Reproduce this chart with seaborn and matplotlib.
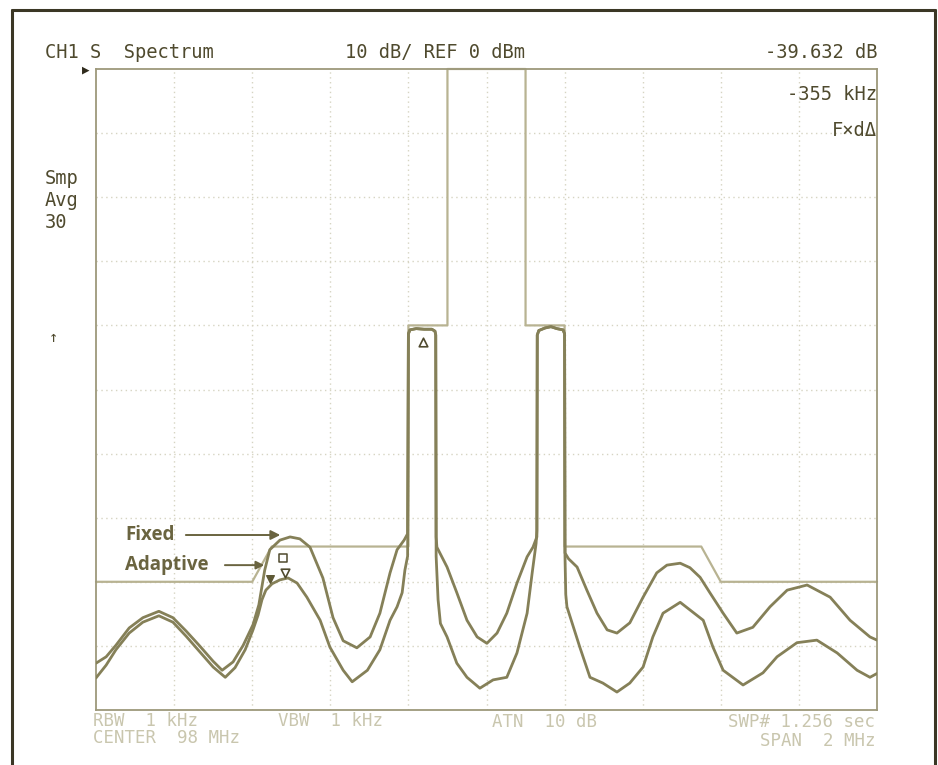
import matplotlib
matplotlib.use("Agg")
import matplotlib.pyplot as plt
from matplotlib.lines import Line2D
import pandas as pd
import seaborn as sns

# Offsets from the 98 MHz centre (kHz) and measured levels (dBm)
fixed_khz = [-1000, -974, -949, -915, -880, -839, -803, -769, -736, -700, -677, -649,
             -623, -598, -583, -568, -555, -529, -503, -478, -452, -419, -393, -367,
             -332, -298, -273, -247, -229, -211, -202,
             -200, -196, -180, -160, -140, -132, -130,
             -129, -127, -101, -76, -50, -24, 1, 27, 52, 78, 104, 119, 129,
             130, 134, 150, 165, 180, 196, 200,
             201, 210, 232, 257, 283, 309, 334, 367, 401, 436, 462, 496, 521, 547,
             572, 606, 641, 682, 726, 770, 821, 880, 931, 982, 1000]
fixed_db = [-92.7, -91.7, -89.9, -87.2, -85.6, -84.6, -85.6, -87.7, -89.9, -92.4, -93.8, -92.5,
            -89.9, -86.7, -83.6, -78.2, -75.0, -73.5, -73.0, -73.3, -74.6, -79.4, -85.6, -89.2,
            -90.3, -88.6, -84.9, -78.6, -75.0, -73.5, -72.5,
            -41.3, -40.7, -40.5, -40.6, -40.6, -40.9, -41.5,
            -73.0, -74.6, -77.7, -81.7, -86.0, -88.6, -89.6, -88.0, -84.9, -80.2, -76.1, -74.6, -73.0,
            -41.5, -40.8, -40.4, -40.2, -40.5, -40.7, -41.3,
            -75.5, -76.4, -77.7, -81.3, -84.9, -87.5, -88.0, -86.4, -82.4, -78.6, -77.4, -77.1, -77.8, -79.3,
            -81.7, -84.9, -88.0, -87.1, -83.9, -81.3, -80.5, -82.4, -86.0, -88.6, -89.1]

adaptive_khz = [-1000, -974, -949, -915, -880, -839, -803, -769, -736, -700, -669, -644,
                -618, -598, -585, -575, -565, -549, -529, -508, -485, -460, -426, -401,
                -367, -344, -305, -273, -247, -229, -216, -209, -202,
                -200, -196, -180, -160, -140, -132, -130,
                -129, -124, -118, -101, -76, -50, -17, 17, 52, 78, 104, 117, 127, 129,
                130, 134, 150, 165, 180, 196, 200,
                201, 203, 206, 239, 265, 298, 334, 367, 401, 426, 452, 496, 555, 580,
                606, 657, 708, 744, 795, 846, 898, 949, 982, 1000]
adaptive_db = [-95.0, -93.0, -90.6, -88.0, -86.3, -85.3, -86.3, -88.5, -90.8, -93.3, -94.9, -93.4,
               -90.6, -87.5, -85.2, -82.8, -81.3, -80.3, -79.7, -79.4, -80.2, -82.4, -86.0, -90.2,
               -93.8, -95.6, -93.8, -90.6, -86.0, -83.9, -81.7, -78.2, -76.0,
               -41.3, -40.7, -40.5, -40.6, -40.6, -40.9, -41.5,
               -76.0, -82.8, -86.5, -88.6, -92.7, -94.9, -96.6, -95.3, -94.9, -91.1, -84.9, -78.6, -74.0, -72.0,
               -41.5, -40.8, -40.4, -40.2, -40.5, -40.7, -41.3,
               -76.0, -82.0, -83.9, -90.2, -94.9, -95.8, -97.2, -95.8, -93.3, -88.6, -84.9, -83.2, -86.0, -90.2,
               -93.8, -96.1, -94.2, -91.7, -89.5, -89.1, -91.1, -93.8, -94.9, -94.3]

# Emission mask limit
mask_khz = [-1000, -600, -550, -200, -200, -100, -100, 100, 100, 200, 200, 550, 600, 1000]
mask_db = [-80, -80, -74.5, -74.5, -40, -40, 0, 0, -40, -40, -74.5, -74.5, -80, -80]

# Markers: reference (delta) marker on the lower sideband, active marker on the first adjacent lobe
ref_marker = (-163, -42.6)
act_marker = (-516, -78.6)

W, H = 938, 765
TRACE = "#858058"
TEXT = "#4f4a2e"
FAINT = "#c9c6ae"
MASKC = "#b8b392"
GRIDC = "#d6d4c2"

sns.set_theme(style="white")
plt.rcParams["font.family"] = ["DejaVu Sans Mono", "DejaVu Sans"]

fig = plt.figure(figsize=(W / 100, H / 100), dpi=100)
fig.patch.set_facecolor("white")
ax = fig.add_axes([96 / W, 1 - 710 / H, (877 - 96) / W, (710 - 69) / H])
ax.set_facecolor("white")

df = pd.concat([
    pd.DataFrame({"kHz": fixed_khz, "dBm": fixed_db, "mode": "Fixed"}),
    pd.DataFrame({"kHz": adaptive_khz, "dBm": adaptive_db, "mode": "Adaptive"}),
], ignore_index=True)

# graticule
for v in range(-800, 1000, 200):
    ax.axvline(v, color=GRIDC, lw=1.0, ls=(0, (1, 2.5)), zorder=0)
for h in range(-90, 0, 10):
    ax.axhline(h, color=GRIDC, lw=1.0, ls=(0, (1, 2.5)), zorder=0)

ax.plot(mask_khz, mask_db, color=MASKC, lw=1.6, zorder=2, clip_on=False)

sns.lineplot(data=df, x="kHz", y="dBm", hue="mode", units="mode", estimator=None,
             sort=False, palette={"Fixed": TRACE, "Adaptive": TRACE}, lw=2.0,
             legend=False, ax=ax, zorder=3)

ax.scatter([ref_marker[0]], [ref_marker[1]], marker="^", s=38, facecolor="white",
           edgecolor=TEXT, lw=1.2, zorder=5)
ax.scatter([act_marker[0]], [act_marker[1]], marker="v", s=38, facecolor="white",
           edgecolor=TEXT, lw=1.2, zorder=5)
ax.scatter([act_marker[0] - 4], [act_marker[1] + 2.3], marker="s", s=30, facecolor="white",
           edgecolor=TEXT, lw=1.1, zorder=5)
ax.scatter([-554], [-79.6], marker="v", s=30, color="#5e5936", zorder=5)

ax.set_xlim(-1000, 1000)
ax.set_ylim(-100, 0)
ax.set_xticks([])
ax.set_yticks([])
ax.set_xlabel("")
ax.set_ylabel("")
for s in ax.spines.values():
    s.set_color("#9d997b")
    s.set_linewidth(1.3)

# trace labels
bold = dict(family=["Open Sans", "DejaVu Sans"], fontweight="bold", fontsize=13.5,
            color="#6a6440", va="center", ha="left")
ax.text(-926, -72.7, "Fixed", **bold)
ax.text(-926, -77.4, "Adaptive", **bold)
ax.annotate("", xy=(-521, -72.7), xytext=(-777, -72.7),
            arrowprops=dict(arrowstyle="-|>", color="#6a6440", lw=1.4, mutation_scale=14))
ax.annotate("", xy=(-562, -77.4), xytext=(-677, -77.4),
            arrowprops=dict(arrowstyle="-|>", color="#6a6440", lw=1.4, mutation_scale=12))


def ftext(x, y, s, ha="left", color=TEXT, size=13.5, **kw):
    fig.text(x / W, 1 - y / H, s, ha=ha, va="center", color=color, fontsize=size, **kw)


ftext(45, 52, "CH1 S  Spectrum")
ftext(345, 52, "10 dB/ REF 0 dBm")
ftext(877, 52, "-39.632 dB", ha="right")
ftext(877, 95, "-355 kHz", ha="right")
ftext(877, 130, "F×dΔ", ha="right")
ftext(45, 178, "Smp")
ftext(45, 200, "Avg")
ftext(45, 222, "30")
ftext(49, 338, "↑", size=11)
ftext(82, 70, "▶", size=9, color="#2f2b1c")

ftext(93, 721, "RBW  1 kHz", color=FAINT, size=12.5)
ftext(278, 721, "VBW  1 kHz", color=FAINT, size=12.5)
ftext(492, 722, "ATN  10 dB", color=FAINT, size=12.5)
ftext(875, 722, "SWP# 1.256 sec", ha="right", color=FAINT, size=12.5)
ftext(93, 738, "CENTER  98 MHz", color=FAINT, size=12.5)
ftext(875, 741, "SPAN  2 MHz", ha="right", color=FAINT, size=12.5)

# outer frame
frame = dict(color="#3b3725", lw=2.2, transform=fig.transFigure)
fig.add_artist(Line2D([12 / W, 12 / W], [0, 1 - 10 / H], **frame))
fig.add_artist(Line2D([12 / W, 935 / W], [1 - 10 / H, 1 - 10 / H], **frame))
fig.add_artist(Line2D([935 / W, 935 / W], [1 - 10 / H, 0], **frame))

fig.savefig("out.png", dpi=100, facecolor="white")
